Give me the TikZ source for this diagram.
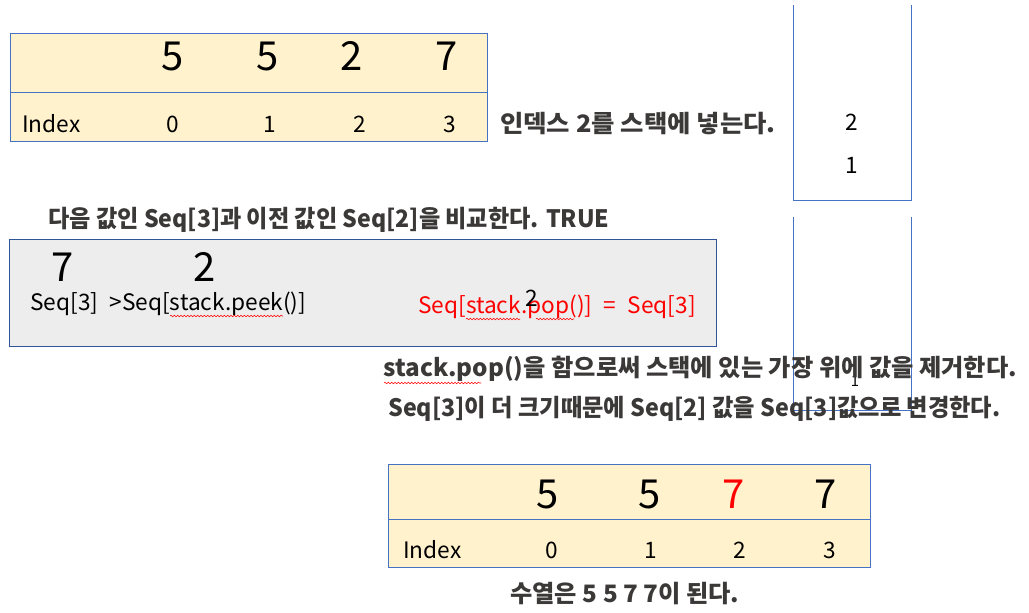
\documentclass[tikz,border=0pt]{standalone}
\usepackage{fontspec}
\setmainfont{Noto Sans CJK KR}
\usetikzlibrary{decorations.pathmorphing}
\definecolor{cellfill}{HTML}{FFF2CC}
\definecolor{boxfill}{HTML}{EDEDED}
\definecolor{bordblue}{HTML}{4472C4}
\definecolor{darkblue}{HTML}{2F5597}
\definecolor{captxt}{HTML}{3B3838}
\definecolor{redtxt}{HTML}{FF0000}
\tikzset{
  big/.style={anchor=base,inner sep=0pt,font=\fontsize{30}{34}\selectfont},
  small/.style={anchor=base,inner sep=0pt,font=\fontsize{17}{20}\selectfont},
  kcap/.style={anchor=base west,inner sep=0pt,text=captxt,font=\bfseries\fontsize{18}{22}\selectfont},
  tbl/.style={draw=bordblue,line width=0.75pt,fill=cellfill},
  stk/.style={draw=bordblue,line width=0.75pt},
  squig/.style={draw=red,line width=0.4pt,decorate,decoration={snake,amplitude=0.6pt,segment length=2.5pt}}
}
\begin{document}
\begin{tikzpicture}[x=0.75pt,y=-0.75pt]
\useasboundingbox (0,0) rectangle (1029,612);
% top table
\path[tbl] (10,33) rectangle (487,141);
\draw[stk] (10,92) -- (487,92);
\node[big] (a0) at (173,70) {5};
\node[big] (a1) at (268,70) {5};
\node[big] (a2) at (352,70) {2};
\node[big] (a3) at (447,70) {7};
\node[small,anchor=base west] (aidx) at (22,132) {Index};
\node[small] (i0) at (173,132) {0};
\node[small] (i1) at (270,132) {1};
\node[small] (i2) at (360,132) {2};
\node[small] (i3) at (450,132) {3};
\node[kcap] (t1) at (500,132) {\scalebox{1.058}[1]{인덱스 2를 스택에 넣는다.}};
% stack 1
\draw[stk] (793,5) -- (793,200) -- (911,200) -- (911,5);
\node[small] (s2) at (852,130) {2};
\node[small] (s1) at (852,173) {1};
% caption 2
\node[kcap] (t2) at (48,227) {\scalebox{0.964}[1]{다음 값인 Seq[3]과 이전 값인 Seq[2]을 비교한다. TRUE}};
% grey box
\path[draw=darkblue,line width=0.75pt,fill=boxfill] (9,239) rectangle (716,346);
\node[big] (b7) at (63,281) {7};
\node[big] (b2) at (205,281) {2};
\node[small,anchor=base west] (cmp) at (30,310) {Seq[3]\enspace >Seq[stack.peek()]};
\node[small,anchor=base west,text=redtxt] (asg) at (418,313) {Seq[stack.pop()]\enspace=\enspace Seq[3]};
\node[small] (ov2) at (532,306) {2};
\draw[squig] (170,316) -- (283,316);
\draw[squig] (466,319) -- (520,319);
\draw[squig] (536,319) -- (574,319);
% stack 2
\draw[stk] (793,217) -- (793,410) -- (911,410) -- (911,217);
\node[anchor=base,inner sep=0pt,font=\fontsize{11}{13}\selectfont] (s1b) at (855,386) {1};
% captions 3,4
\node[kcap] (t3) at (383,376) {\scalebox{1.01}[1]{stack.pop()을 함으로써 스택에 있는 가장 위에 값을 제거한다.}};
\draw[squig] (384,383) -- (481,383);
\node[kcap] (t4) at (388,416) {\scalebox{0.968}[1]{Seq[3]이 더 크기때문에 Seq[2] 값을 Seq[3]값으로 변경한다.}};
% bottom table
\path[tbl] (388,464) rectangle (870,567);
\draw[stk] (388,519) -- (870,519);
\node[big] (c0) at (548,508) {5};
\node[big] (c1) at (650,508) {5};
\node[big,text=redtxt] (c2) at (734,508) {7};
\node[big] (c3) at (826,508) {7};
\node[small,anchor=base west] (cidx) at (403,558) {Index};
\node[small] (j0) at (552,558) {0};
\node[small] (j1) at (651,558) {1};
\node[small] (j2) at (740,558) {2};
\node[small] (j3) at (830,558) {3};
\node[kcap] (t5) at (510,602) {\scalebox{1.01}[1]{수열은 5 5 7 7이 된다.}};
\end{tikzpicture}
\end{document}
